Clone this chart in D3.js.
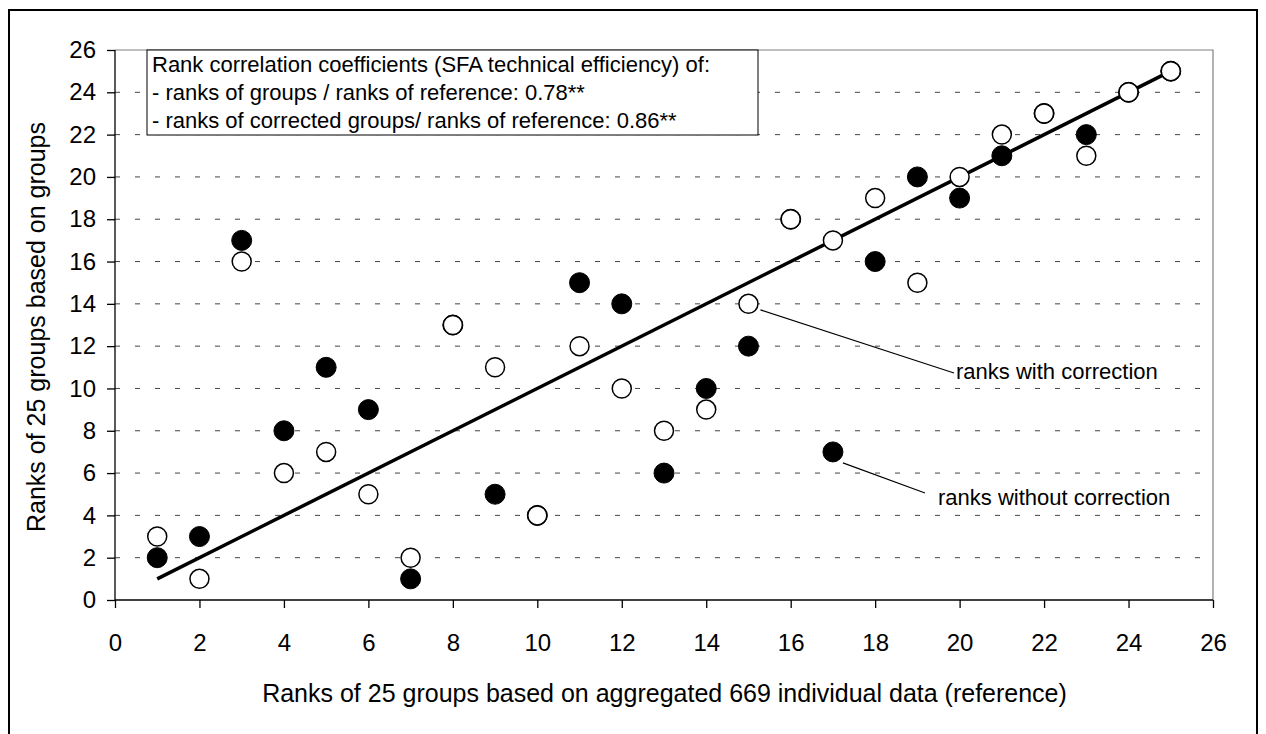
<!DOCTYPE html>
<html>
<head>
<meta charset="utf-8">
<script src="https://cdn.jsdelivr.net/npm/d3@7"></script>
<style>
  html, body { margin: 0; padding: 0; background: #fff; }
  svg { display: block; font-family: "Liberation Sans", Arial, sans-serif; }
</style>
</head>
<body>
<svg id="chart" width="1266" height="734"></svg>
<script>
// ---- data ----
const refRanks = [1,2,3,4,5,6,7,8,9,10,11,12,13,14,15,16,17,18,19,20,21,22,23,24,25];
const ranksWithoutCorrection = [2,3,17,8,11,9,1,13,5,4,15,14,6,10,12,18,7,16,20,19,21,23,22,24,25];
const ranksWithCorrection    = [3,1,16,6,7,5,2,13,11,4,12,10,8,9,14,18,17,19,15,20,22,23,21,24,25];
const xTicks = [0,2,4,6,8,10,12,14,16,18,20,22,24,26];
const yTicks = [0,2,4,6,8,10,12,14,16,18,20,22,24,26];
const legendLines = [
  "Rank correlation coefficients (SFA technical efficiency) of:",
  "- ranks of groups / ranks of reference: 0.78**",
  "- ranks of corrected groups/ ranks of reference: 0.86**"
];
const xTitle = "Ranks of 25 groups based on aggregated 669 individual data (reference)";
const yTitle = "Ranks of 25 groups based on groups";
const annotationLabels = ["ranks with correction", "ranks without correction"];
const annotationPoints = [[15, 14], [17, 7]];

// ---- layout ----
const svg = d3.select("#chart");
const L = 115, R = 1213, T = 50, B = 600;
const x = d3.scaleLinear().domain([0, 26]).range([L, R]);
const y = d3.scaleLinear().domain([0, 26]).range([B, T]);

// outer frame
svg.append("rect").attr("x", 9).attr("y", 10).attr("width", 1248).attr("height", 760)
  .attr("fill", "none").attr("stroke", "#000").attr("stroke-width", 2);

// gridlines
svg.append("g").selectAll("line").data(yTicks.filter(d => d > 0 && d < 26)).join("line")
  .attr("x1", L).attr("x2", R).attr("y1", d => y(d)).attr("y2", d => y(d))
  .attr("stroke", "#444").attr("stroke-width", 1).attr("stroke-dasharray", "5,15");

// plot-area border (top, right)
svg.append("path").attr("d", `M${L},${T}H${R}V${B}`)
  .attr("fill", "none").attr("stroke", "#808080").attr("stroke-width", 1.2);

// axes
const xAxis = d3.axisBottom(x).tickValues(xTicks).tickSize(8).tickPadding(26).tickFormat(d3.format("d"));
const yAxis = d3.axisLeft(y).tickValues(yTicks).tickSize(8).tickPadding(11).tickFormat(d3.format("d"));
const gx = svg.append("g").attr("transform", `translate(0,${B})`).call(xAxis);
const gy = svg.append("g").attr("transform", `translate(${L},0)`).call(yAxis);
[gx, gy].forEach(g => {
  g.select(".domain").attr("stroke", "#000").attr("stroke-width", 1.3);
  g.selectAll(".tick line").attr("stroke", "#000").attr("stroke-width", 1.3);
  g.selectAll(".tick text").attr("font-size", 24).attr("fill", "#000")
    .attr("font-family", "'Liberation Sans', Arial, sans-serif");
});
gy.select(".domain").attr("d", `M0,${B}V${T}`);
gx.select(".domain").attr("d", `M${L},0H${R}`);

// axis titles
svg.append("text").attr("x", 664.5).attr("y", 702).attr("text-anchor", "middle")
  .attr("font-size", 25).text(xTitle);
svg.append("text").attr("transform", `translate(45,327) rotate(-90)`)
  .attr("text-anchor", "middle").attr("font-size", 25).text(yTitle);

// trend line (1:1)
svg.append("line")
  .attr("x1", x(refRanks[0])).attr("y1", y(refRanks[0]))
  .attr("x2", x(refRanks[refRanks.length - 1])).attr("y2", y(refRanks[refRanks.length - 1]))
  .attr("stroke", "#000").attr("stroke-width", 3.5);

// points
svg.append("g").selectAll("circle").data(refRanks).join("circle")
  .attr("cx", d => x(d)).attr("cy", (d, i) => y(ranksWithoutCorrection[i])).attr("r", 10)
  .attr("fill", "#000").attr("stroke", "#000").attr("stroke-width", 1);
svg.append("g").selectAll("circle").data(refRanks).join("circle")
  .attr("cx", d => x(d)).attr("cy", (d, i) => y(ranksWithCorrection[i])).attr("r", 9.5)
  .attr("fill", "#fff").attr("stroke", "#000").attr("stroke-width", 1.5);

// legend box
svg.append("rect").attr("x", 147).attr("y", T).attr("width", 611).attr("height", 85)
  .attr("fill", "#fff").attr("stroke", "#000").attr("stroke-width", 1);
svg.append("g").selectAll("text").data(legendLines).join("text")
  .attr("x", 152).attr("y", (d, i) => 72 + i * 28)
  .attr("font-size", 22).text(d => d);

// annotations
const ann = [
  {x1: x(annotationPoints[0][0]) + 12, y1: y(annotationPoints[0][1]) + 6, x2: 954, y2: 373, tx: 956, ty: 379},
  {x1: x(annotationPoints[1][0]) + 10, y1: y(annotationPoints[1][1]) + 11, x2: 925, y2: 493, tx: 938, ty: 505}
];
ann.forEach((o, i) => {
  svg.append("line").attr("x1", o.x1).attr("y1", o.y1).attr("x2", o.x2).attr("y2", o.y2)
    .attr("stroke", "#000").attr("stroke-width", 1.2);
  svg.append("text").attr("x", o.tx).attr("y", o.ty).attr("font-size", 22).text(annotationLabels[i]);
});
</script>
</body>
</html>
